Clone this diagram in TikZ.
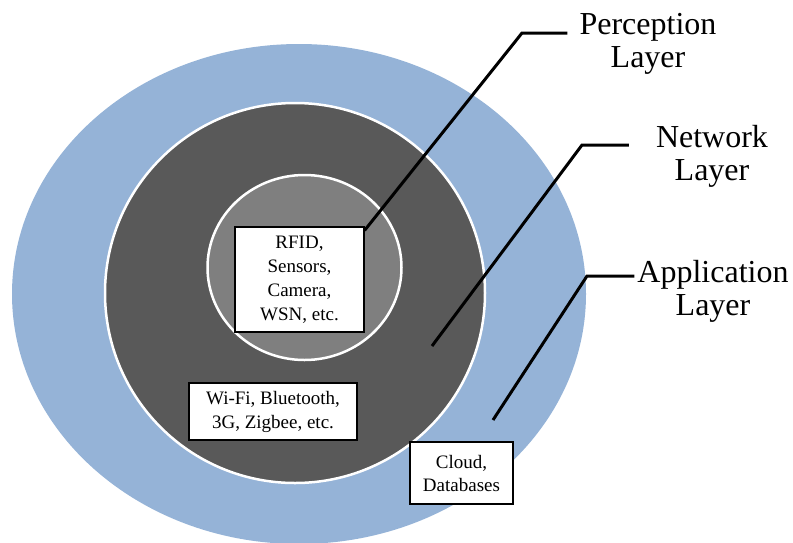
\documentclass[tikz,border=0pt]{standalone}
\usepackage{fontspec}
\setmainfont{Liberation Serif}
\definecolor{outerblue}{HTML}{95B3D7}
\definecolor{darkring}{HTML}{595959}
\definecolor{innergray}{HTML}{7F7F7F}
\begin{document}
\begin{tikzpicture}[x=1pt,y=-1pt,
  ring/.style={draw=white,line width=2.5pt},
  leader/.style={line width=3pt,line join=miter},
  infobox/.style={draw=black,line width=1.2pt,fill=white,align=center,
    inner sep=0pt,font=\fontsize{19}{24}\selectfont},
  layerlabel/.style={align=center,inner sep=0pt,anchor=north,
    font=\fontsize{32}{33}\selectfont}]
\useasboundingbox (0,0) rectangle (793,542);

% concentric layers
\fill[outerblue] (299,294) ellipse [x radius=287pt, y radius=250pt];
\filldraw[ring, fill=darkring] (295,293) circle [radius=190pt];
\filldraw[ring, fill=innergray] (304.5,267.5) ellipse [x radius=97pt, y radius=92.5pt];

% layer names
\node[layerlabel] (perc) at (648,13) {Perception\\Layer};
\node[layerlabel] (net) at (712,125) {Network\\Layer};
\node[layerlabel] (app) at (713,260) {Application\\Layer};

% examples of each layer
\node[infobox, minimum width=129pt, minimum height=105pt] (rfid) at (299.5,279.5)
  {RFID,\\Sensors,\\Camera,\\WSN, etc.};
\node[infobox, minimum width=168pt, minimum height=57pt] (wifi) at (273,411.5)
  {Wi-Fi, Bluetooth,\\3G, Zigbee, etc.};
\node[infobox, minimum width=103pt, minimum height=62pt,
  font=\fontsize{19}{23}\selectfont] (cloud) at (461.5,473)
  {Cloud,\\Databases};

% leader lines
\coordinate (percbend) at (522,33);
\coordinate (netdot) at (432,346);
\coordinate (netbend) at (582,145);
\coordinate (appdot) at (493,420);
\coordinate (appbend) at (587,276);

\draw[leader, shorten >=12pt] ([yshift=-4pt]rfid.north east) -- (percbend) -- (percbend -| perc.west);
\draw[leader, shorten >=27pt] (netdot) -- (netbend) -- (netbend -| net.west);
\draw[leader, shorten >=3pt] (appdot) -- (appbend) -- (appbend -| app.west);
\end{tikzpicture}
\end{document}
